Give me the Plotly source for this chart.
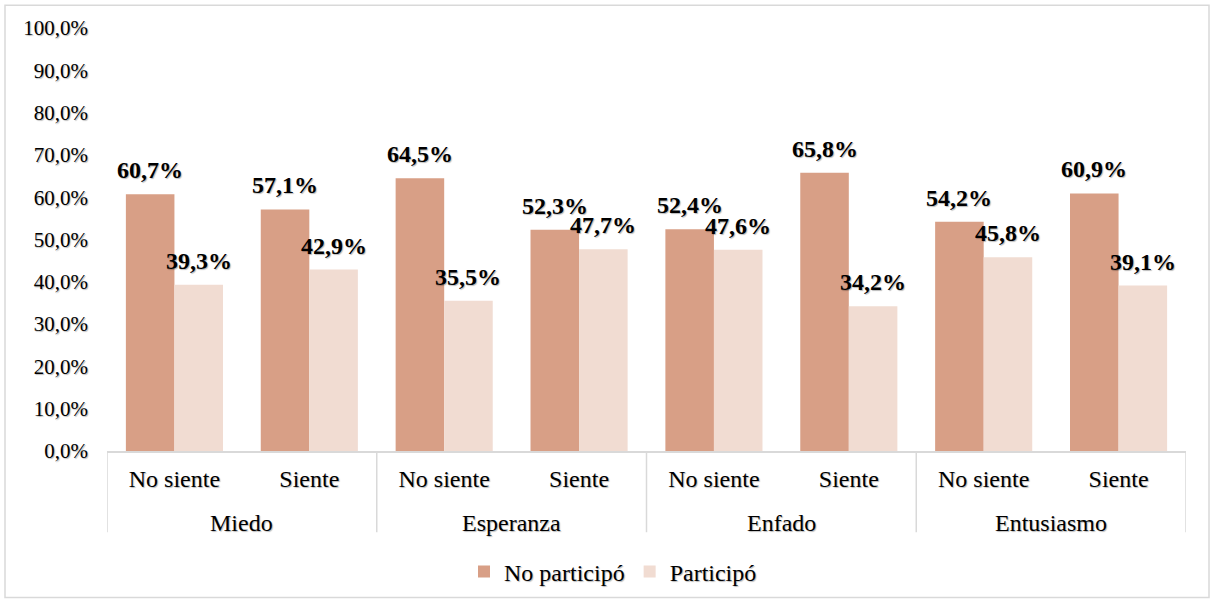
import plotly.graph_objects as go

# Emotions (outer level) and whether the emotion is felt (inner level)
emotion_groups = ["Miedo", "Esperanza", "Enfado", "Entusiasmo"]
feeling_levels = ["No siente", "Siente"]

# Percentages per (emotion, feeling) pair, in the order above
no_participo = [60.7, 57.1, 64.5, 52.3, 52.4, 65.8, 54.2, 60.9]
participo = [39.3, 42.9, 35.5, 47.7, 47.6, 34.2, 45.8, 39.1]

y_ticks = list(range(0, 101, 10))
y_tick_text = [f"{v:.1f}%".replace(".", ",") for v in y_ticks]

SERIF = "Liberation Serif, Times New Roman, serif"
SHADOW = "1px 1px 1px rgba(0,0,0,0.28)"
GRID = "#d9d9d9"
BARGAP = 0.28

W, H = 1214, 606
L, R, T, B = 107, 28, 28, 151
pw, ph = W - L - R, H - T - B


def py(pixel_y):
    """Convert a page pixel row into paper y coordinates."""
    return (T + ph - pixel_y) / ph


# One unique category key per bar pair, labelled by its inner level
keys = [f"{e} · {f}" for e in emotion_groups for f in feeling_levels]
inner_text = [f for _ in emotion_groups for f in feeling_levels]

series = [
    ("No participó", no_participo, "#D89F86"),
    ("Participó", participo, "#F1DCD2"),
]

fig = go.Figure()
for name, values, colour in series:
    fig.add_trace(go.Bar(
        name=name, x=keys, y=values,
        marker=dict(color=colour, line=dict(width=0)),
        hoverinfo="x+y+name",
    ))

# Value labels above each bar (grouped-bar centre offsets in category units)
bar_w = (1 - BARGAP) / len(series)
label_font = dict(family=SERIF, size=24, color="black", weight="bold", shadow=SHADOW)
for si, (_, values, _) in enumerate(series):
    offset = -(1 - BARGAP) / 2 + bar_w * (si + 0.5)
    for ci, v in enumerate(values):
        fig.add_annotation(
            x=ci + offset, xref="x", y=v, yref="y",
            text=f"{v:.1f}%".replace(".", ","),
            showarrow=False, xanchor="center", yanchor="bottom", yshift=9,
            font=label_font,
        )

n_inner = len(feeling_levels)

# Outer-level group labels and the divider lines between groups
for gi, name in enumerate(emotion_groups):
    centre = gi * n_inner + (n_inner - 1) / 2
    fig.add_annotation(
        x=centre, xref="x", y=py(528), yref="paper",
        text=name, showarrow=False, xanchor="center", yanchor="middle",
        font=dict(family=SERIF, size=24, color="black", shadow=SHADOW),
    )
for gi in range(len(emotion_groups) + 1):
    xd = gi * n_inner - 0.5
    fig.add_shape(
        type="line", xref="x", yref="paper", x0=xd, x1=xd, y0=0, y1=py(537),
        line=dict(color=GRID, width=1.5),
    )

# Outer frame around the whole chart
fig.add_shape(
    type="rect", xref="paper", yref="paper",
    x0=(5 - L) / pw, x1=(W - 5 - L) / pw, y0=py(H - 3), y1=py(5),
    line=dict(color=GRID, width=1.5), fillcolor="rgba(0,0,0,0)", layer="below",
)

fig.update_layout(
    width=W, height=H,
    margin=dict(l=L, r=R, t=T, b=B),
    paper_bgcolor="white", plot_bgcolor="white",
    barmode="group", bargap=BARGAP, bargroupgap=0,
    font=dict(family=SERIF, size=20, color="black", shadow=SHADOW),
    showlegend=True,
    legend=dict(
        orientation="h", xanchor="center", yanchor="middle",
        x=(613 - L) / pw, y=py(577),
        font=dict(family=SERIF, size=24, color="black", shadow=SHADOW),
        itemwidth=30, traceorder="normal",
    ),
    xaxis=dict(
        type="category", categoryorder="array", categoryarray=keys,
        range=[-0.5, len(keys) - 0.5],
        tickmode="array", tickvals=keys, ticktext=inner_text,
        showline=True, linecolor=GRID, linewidth=1.5,
        ticks="", showgrid=False, ticklabelstandoff=5,
        tickfont=dict(family=SERIF, size=24, color="black", shadow=SHADOW),
    ),
    yaxis=dict(
        range=[0, 100], tickmode="array", tickvals=y_ticks, ticktext=y_tick_text,
        showgrid=False, zeroline=False, showline=False, ticks="",
        tickfont=dict(family=SERIF, size=21, color="black", shadow=SHADOW),
        ticklabelstandoff=18,
    ),
)

fig.write_html("out.html")
